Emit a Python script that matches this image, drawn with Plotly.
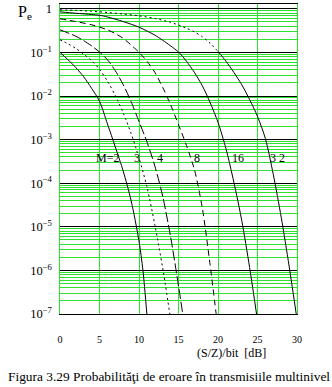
import plotly.graph_objects as go

# Symbol error probability of multilevel transmission vs. SNR per bit (dB)
snr_m2 = [0, 1, 2, 3, 4, 5, 6, 7, 8, 9, 10, 10.5, 11, 11.2]
pe_m2 = [1.0e-1, 6.8e-2, 4.5e-2, 2.75e-2, 1.5e-2, 7.6e-3, 2.3e-3, 6.8e-4,
         1.9e-4, 4.0e-5, 4.7e-6, 1.0e-6, 1.0e-7, 4.0e-8]

snr_m3 = [0, 1, 2, 3, 4, 5, 6, 7, 8, 9, 10, 11, 12, 13, 13.9, 14.2]
pe_m3 = [1.95e-1, 1.58e-1, 1.23e-1, 9.1e-2, 6.5e-2, 4.1e-2, 2.2e-2, 1.02e-2,
         4.1e-3, 1.38e-3, 3.8e-4, 8.3e-5, 1.12e-5, 1.12e-6, 1.0e-7, 4.0e-8]

snr_m4 = [0, 1, 2, 3, 4, 5, 6, 7, 8, 9, 10, 11, 12, 13, 14, 15, 15.6, 15.9]
pe_m4 = [3.3e-1, 2.8e-1, 2.35e-1, 1.86e-1, 1.41e-1, 1.02e-1, 6.8e-2, 3.8e-2,
         1.82e-2, 7.4e-3, 2.6e-3, 8.9e-4, 2.5e-4, 5.0e-5, 5.9e-6, 4.4e-7,
         8.3e-8, 3.2e-8]

snr_m8 = [0, 2, 4, 5, 6, 7, 8, 9, 10, 11, 12, 13, 14, 15, 16, 17, 18, 19,
          19.8, 20.1]
pe_m8 = [5.9e-1, 5.1e-1, 4.3e-1, 3.8e-1, 3.3e-1, 2.7e-1, 2.1e-1, 1.48e-1,
         1.0e-1, 6.3e-2, 3.5e-2, 1.58e-2, 6.3e-3, 2.2e-3, 7.4e-4, 2.1e-4,
         2.8e-5, 1.35e-6, 8.9e-8, 3.2e-8]

snr_m16 = [0, 2, 4, 5, 6, 8, 10, 11, 12, 13, 14, 15, 16, 17, 18, 19, 20, 21,
           22, 23, 24, 25]
pe_m16 = [8.5e-1, 7.9e-1, 7.4e-1, 7.1e-1, 6.5e-1, 5.1e-1, 3.8e-1, 3.1e-1,
          2.5e-1, 1.9e-1, 1.41e-1, 1.02e-1, 6.3e-2, 3.5e-2, 1.74e-2, 7.1e-3,
          2.5e-3, 6.3e-4, 1.07e-4, 1.41e-5, 1.17e-6, 7.1e-8]

snr_m32 = [0, 2, 4, 6, 8, 10, 12, 14, 16, 17, 18, 19, 20, 21, 22, 23, 24,
           25, 26, 27, 28, 29, 30]
pe_m32 = [9.5e-1, 9.2e-1, 8.8e-1, 8.2e-1, 7.6e-1, 6.9e-1, 6.0e-1, 4.9e-1,
          3.6e-1, 2.95e-1, 2.3e-1, 1.62e-1, 1.05e-1, 6.3e-2, 3.5e-2, 1.82e-2,
          8.3e-3, 3.4e-3, 1.05e-3, 1.58e-4, 1.66e-5, 1.26e-6, 7.6e-8]

# curve labels: text, x (dB)
label_text = ["M=2", "3", "4", "8", "16", "3 2"]
label_snr = [5.95, 9.8, 12.7, 17.3, 22.5, 27.5]
label_log_pe = -3.42

x_ticks = [0, 5, 10, 15, 20, 25, 30]

GREEN = "#2fe02f"
FONT = "Liberation Serif"

fig = go.Figure()


def curve(x, y, dash):
    fig.add_trace(go.Scatter(
        x=x, y=y, mode="lines",
        line=dict(color="black", width=1, dash=dash, shape="spline", smoothing=0.8),
        showlegend=False, hoverinfo="skip",
    ))


curve(snr_m2, pe_m2, "solid")
curve(snr_m3, pe_m3, "2px,3px")
curve(snr_m4, pe_m4, "10px,3px")
curve(snr_m8, pe_m8, "6px,4px")
curve(snr_m16, pe_m16, "solid")
# M=32: dotted on the flat upper part, solid on the steep lower part
split = snr_m32.index(20)
curve(snr_m32[:split + 1], pe_m32[:split + 1], "2px,3px")
curve(snr_m32[split:], pe_m32[split:], "solid")

annotations = []
for t, xv in zip(label_text, label_snr):
    annotations.append(dict(
        x=xv, y=label_log_pe, xref="x", yref="y", text=t, showarrow=False,
        font=dict(family=FONT, size=12, color="black"),
    ))

annotations += [
    dict(x=-0.186, y=0.972, xref="paper", yref="paper", xanchor="left",
         yanchor="middle", text="P<sub>e</sub>", showarrow=False,
         font=dict(family=FONT, size=16, color="black")),
    dict(x=0.725, y=-0.125, xref="paper", yref="paper", xanchor="center",
         yanchor="middle", text="(S/Z)/bit&nbsp;&nbsp;[dB]", showarrow=False,
         font=dict(family=FONT, size=12, color="black")),
    dict(x=0.458, y=-0.2, xref="paper", yref="paper", xanchor="center",
         yanchor="middle",
         text="Figura 3.29 Probabilităţi de eroare în transmisiile multinivel",
         showarrow=False, font=dict(family=FONT, size=13.4, color="black")),
]

fig.update_layout(
    width=332, height=387,
    margin=dict(l=60, r=35, t=2, b=73),
    paper_bgcolor="white", plot_bgcolor="white",
    font=dict(family=FONT, size=10, color="black"),
    annotations=annotations,
    xaxis=dict(
        range=[0, 30], tickmode="array", tickvals=x_ticks,
        showgrid=True, gridcolor=GREEN, gridwidth=1,
        showline=True, linecolor="black", linewidth=1, mirror=True,
        zeroline=False, ticks="", ticklabelstandoff=16,
        tickfont=dict(family=FONT, size=10),
    ),
    yaxis=dict(
        type="log", range=[-7, 0.11], dtick=1, exponentformat="power",
        showgrid=True, gridcolor="black", gridwidth=1,
        minor=dict(dtick="D1", showgrid=True, gridcolor=GREEN, gridwidth=1, ticks=""),
        showline=True, linecolor=GREEN, linewidth=1, mirror=True,
        zeroline=False, ticks="", ticklabelstandoff=5,
        tickfont=dict(family=FONT, size=10),
    ),
)

fig.write_html("out.html")
